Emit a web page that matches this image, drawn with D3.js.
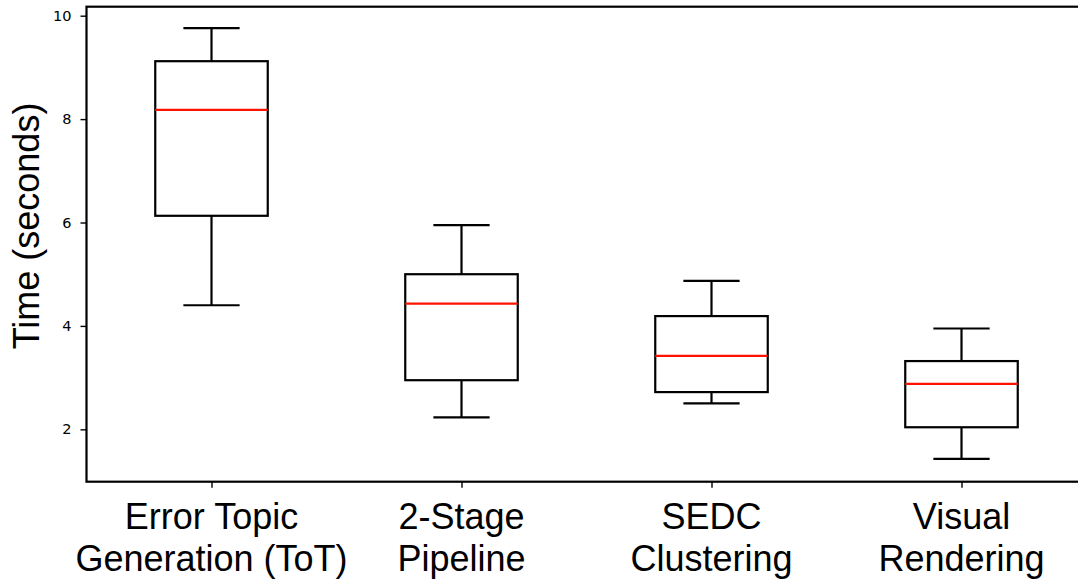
<!DOCTYPE html>
<html>
<head>
<meta charset="utf-8">
<script src="https://cdn.jsdelivr.net/npm/d3@7"></script>
<style>
  body { margin: 0; background: #fff; }
  .tick text { font-family: "DejaVu Sans", sans-serif; font-size: 14.5px; fill: #000; }
  .lbl { font-family: "Liberation Sans", Arial, sans-serif; font-size: 36px; fill: #000; }
</style>
</head>
<body>
<div id="chart"></div>
<script>
// box stats
var categories = [["Error Topic", "Generation (ToT)"], ["2-Stage", "Pipeline"], ["SEDC", "Clustering"], ["Visual", "Rendering"]];
var whiskerLow  = [4.40, 2.23, 2.50, 1.43];
var q1          = [6.13, 2.95, 2.72, 2.04];
var median      = [8.18, 4.43, 3.42, 2.88];
var q3          = [9.12, 5.00, 4.19, 3.32];
var whiskerHigh = [9.76, 5.95, 4.87, 3.95];
var yTicks = [2, 4, 6, 8, 10];

var width = 1078, height = 580;
var plot = {left: 86.5, top: 6.7, right: 1086.5, bottom: 481.7};

var svg = d3.select("#chart").append("svg")
    .attr("width", width)
    .attr("height", height);

var x = d3.scaleLinear().domain([0.5, 4.5]).range([plot.left, plot.right]);
var y = d3.scaleLinear().domain([0.987, 10.174]).range([plot.bottom, plot.top]);

var data = categories.map(function(c, i) {
  return {pos: i + 1, name: c, lo: whiskerLow[i], q1: q1[i], med: median[i], q3: q3[i], hi: whiskerHigh[i]};
});

var boxW = 0.45, capW = 0.225;

var g = svg.append("g");

data.forEach(function(d) {
  var cx = x(d.pos);
  // whiskers
  g.append("line").attr("x1", cx).attr("x2", cx).attr("y1", y(d.q3)).attr("y2", y(d.hi))
    .attr("stroke", "#000").attr("stroke-width", 2.2);
  g.append("line").attr("x1", cx).attr("x2", cx).attr("y1", y(d.q1)).attr("y2", y(d.lo))
    .attr("stroke", "#000").attr("stroke-width", 2.2);
  // caps
  [d.lo, d.hi].forEach(function(v) {
    g.append("line")
      .attr("x1", x(d.pos - capW / 2)).attr("x2", x(d.pos + capW / 2))
      .attr("y1", y(v)).attr("y2", y(v))
      .attr("stroke", "#000").attr("stroke-width", 2.2);
  });
  // box
  g.append("rect")
    .attr("x", x(d.pos - boxW / 2))
    .attr("width", x(d.pos + boxW / 2) - x(d.pos - boxW / 2))
    .attr("y", y(d.q3))
    .attr("height", y(d.q1) - y(d.q3))
    .attr("fill", "none").attr("stroke", "#000").attr("stroke-width", 2.2);
  // median
  g.append("line")
    .attr("x1", x(d.pos - boxW / 2)).attr("x2", x(d.pos + boxW / 2))
    .attr("y1", y(d.med)).attr("y2", y(d.med))
    .attr("stroke", "#ff1200").attr("stroke-width", 2.2);
});

// y axis
var yAxis = svg.append("g")
    .attr("transform", "translate(" + plot.left + ",0)")
    .call(d3.axisLeft(y).tickValues(yTicks).tickFormat(d3.format("d")).tickSize(6).tickPadding(9));
yAxis.select(".domain").remove();
yAxis.selectAll(".tick line").attr("stroke", "#000").attr("stroke-width", 1.4);

// x axis ticks
var xAxis = svg.append("g")
    .attr("transform", "translate(0," + plot.bottom + ")")
    .call(d3.axisBottom(x).tickValues([1, 2, 3, 4]).tickFormat("").tickSize(6));
xAxis.select(".domain").remove();
xAxis.selectAll(".tick line").attr("stroke", "#000").attr("stroke-width", 1.4);

// frame
svg.append("rect")
    .attr("x", plot.left).attr("y", plot.top)
    .attr("width", plot.right - plot.left).attr("height", plot.bottom - plot.top)
    .attr("fill", "none").attr("stroke", "#000").attr("stroke-width", 2.2);

// category labels
data.forEach(function(d) {
  var t = svg.append("text").attr("class", "lbl").attr("text-anchor", "middle");
  t.append("tspan").attr("x", x(d.pos)).attr("y", 529).text(d.name[0]);
  t.append("tspan").attr("x", x(d.pos)).attr("y", 571).text(d.name[1]);
});

// y label
svg.append("text")
    .attr("class", "lbl")
    .attr("text-anchor", "middle")
    .attr("transform", "translate(39,226) rotate(-90)")
    .text("Time (seconds)");
</script>
</body>
</html>
